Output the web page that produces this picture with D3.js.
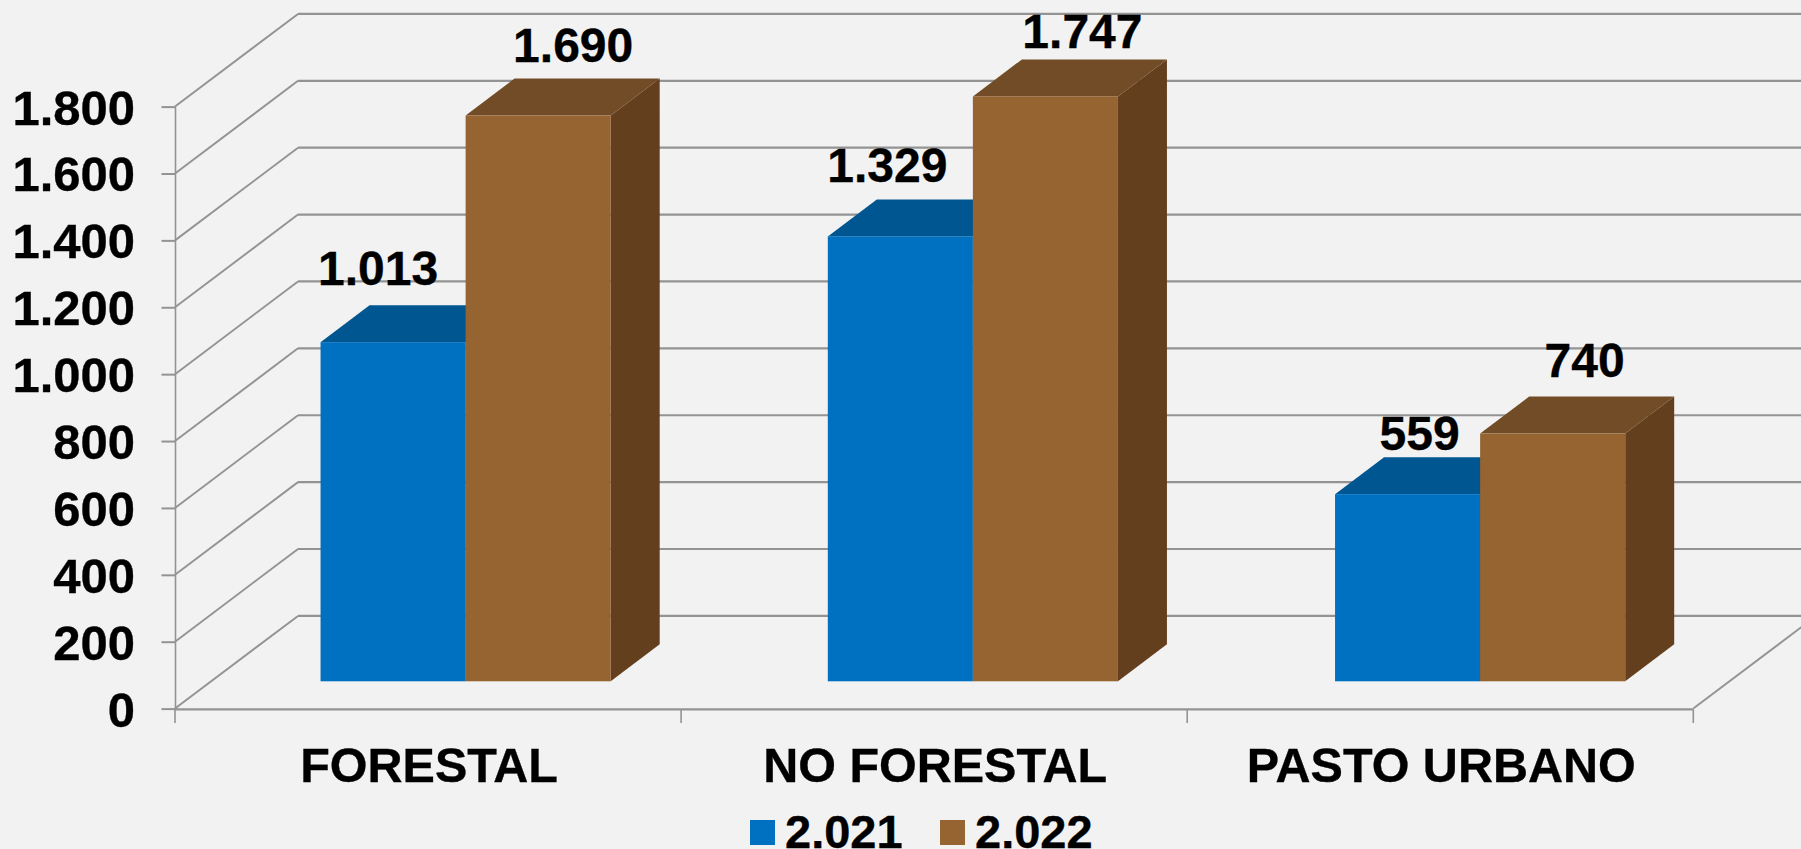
<!DOCTYPE html>
<html>
<head>
<meta charset="utf-8">
<script src="https://cdn.jsdelivr.net/npm/d3@7"></script>
<style>
html,body{margin:0;padding:0;background:#F2F2F2;overflow:hidden}
svg{display:block}
text{font-family:"Liberation Sans",Arial,sans-serif;font-weight:700;fill:#000;stroke:#000;stroke-width:.35px}
</style>
</head>
<body>
<svg id="chart" width="1801" height="849"></svg>
<script>
// ---- data ----
const categories = ["FORESTAL", "NO FORESTAL", "PASTO URBANO"];
const seriesNames = ["2.021", "2.022"];
const values2021 = [1013, 1329, 559];
const values2022 = [1690, 1747, 740];
const yTicks = [0, 200, 400, 600, 800, 1000, 1200, 1400, 1600, 1800];

// ---- layout & style ----
const W = 1801, H = 849;
const fontY = 49, fontCat = 48.5, fontVal = 48, fontLegend = 47;
const depthWall = {dx: 123, dy: -92.7};
const depthBar = {dx: 49, dy: -37};
const barColors = [
  {front: "#0070C0", top: "#005690", side: "#004F85"},
  {front: "#956430", top: "#724C26", side: "#633F1E"}
];
const gridColor = "#939393";
// hand-placed data labels: [dx from bar centre, baseline gap above bar top]
const labelNudge = [
  [[-15, 57], [35, 54]],
  [[-13, 54], [37, 48]],
  [[12, 44], [32, 57]]
];

const svg = d3.select("#chart");
const fmt = d3.formatLocale({decimal: ",", thousands: ".", grouping: [3], currency: ["", ""]}).format(",d");

// ---- scales ----
const yAxisScale = d3.scaleLinear().domain([0, 1800]).range([708.6, 106.6]);
const yBar = d3.scaleLinear().domain([0, 1800]).range([681.3, 78.7]);
const xWall = d3.scaleLinear().domain([0, categories.length]).range([175, 1693.3]);
const xCatLabels = d3.scaleBand().domain(categories).range([175, 1693.3]);
const xGroup = d3.scaleBand().domain(categories).range([212, 1733.75]).paddingInner(0.428).paddingOuter(0.214);
const xSeries = d3.scaleBand().domain(seriesNames).range([0, xGroup.bandwidth()]);

// ---- walls ----
const walls = svg.append("g").attr("fill", "none").attr("stroke", gridColor);
yTicks.forEach(t => {
  const y = yAxisScale(t);
  walls.append("line").attr("stroke-width", 1.9).attr("x1", xWall(0)).attr("y1", y)
    .attr("x2", xWall(0) + depthWall.dx).attr("y2", y + depthWall.dy);
  walls.append("line").attr("stroke-width", 2.2).attr("x1", xWall(0) + depthWall.dx).attr("y1", y + depthWall.dy)
    .attr("x2", xWall(categories.length) + depthWall.dx).attr("y2", y + depthWall.dy);
});
// floor right edge
walls.append("line").attr("stroke-width", 1.9).attr("x1", xWall(categories.length)).attr("y1", yAxisScale(0))
  .attr("x2", xWall(categories.length) + depthWall.dx).attr("y2", yAxisScale(0) + depthWall.dy);

// ---- y axis ----
const yAxisG = svg.append("g").attr("transform", `translate(${xWall(0)},0)`)
  .call(d3.axisLeft(yAxisScale).tickValues(yTicks).tickFormat(fmt).tickSize(13.5).tickSizeOuter(0));
yAxisG.select(".domain").attr("stroke", gridColor).attr("stroke-width", 1.6);
yAxisG.selectAll(".tick line").attr("stroke", gridColor).attr("stroke-width", 2);
yAxisG.selectAll(".tick text")
  .attr("x", -40).attr("dy", null).attr("y", 17.5)
  .attr("text-anchor", "end").attr("fill", "#000").style("font-size", fontY + "px");

// ---- x axis ----
const xBase = 709.4;
svg.append("line").attr("x1", xWall(0)).attr("x2", xWall(categories.length))
  .attr("y1", xBase).attr("y2", xBase).attr("stroke", gridColor).attr("stroke-width", 2.4);
d3.range(categories.length + 1).forEach(i => {
  svg.append("line").attr("x1", xWall(i)).attr("x2", xWall(i))
    .attr("y1", xBase).attr("y2", 723).attr("stroke", gridColor).attr("stroke-width", 1.6);
});
const xAxisG = svg.append("g").attr("transform", `translate(0,${xBase})`)
  .call(d3.axisBottom(xCatLabels).tickSize(0));
xAxisG.select(".domain").remove();
xAxisG.selectAll(".tick text").attr("dy", null).attr("y", 72.5)
  .attr("dx", 1).style("font-size", fontCat + "px");

// ---- bars ----
const allValues = [values2021, values2022];
const bars = svg.append("g");
categories.forEach((cat, c) => {
  seriesNames.forEach((s, i) => {
    const v = allValues[i][c];
    const x0 = xGroup(cat) + xSeries(s), x1 = x0 + xSeries.bandwidth();
    const yT = yBar(v), yB = yBar(0);
    const d = depthBar, col = barColors[i];
    const g = bars.append("g");
    g.append("path").attr("fill", col.side)
      .attr("d", d3.line()([[x1, yT], [x1 + d.dx, yT + d.dy], [x1 + d.dx, yB + d.dy], [x1, yB]]) + "Z");
    g.append("path").attr("fill", col.top)
      .attr("d", d3.line()([[x0, yT], [x0 + d.dx, yT + d.dy], [x1 + d.dx, yT + d.dy], [x1, yT]]) + "Z");
    g.append("rect").attr("fill", col.front)
      .attr("x", x0).attr("y", yT).attr("width", x1 - x0).attr("height", yB - yT);
  });
});

// ---- value labels ----
categories.forEach((cat, c) => {
  seriesNames.forEach((s, i) => {
    const v = allValues[i][c];
    const [nx, ny] = labelNudge[c][i];
    svg.append("text")
      .attr("x", xGroup(cat) + xSeries(s) + xSeries.bandwidth() / 2 + nx)
      .attr("y", yBar(v) - ny)
      .attr("text-anchor", "middle")
      .style("font-size", fontVal + "px")
      .text(fmt(v));
  });
});

// ---- legend ----
const legendX = d3.scalePoint().domain(seriesNames).range([750, 940]);
seriesNames.forEach((s, i) => {
  const x = legendX(s);
  svg.append("rect").attr("x", x).attr("y", 820).attr("width", 25).attr("height", 25)
    .attr("fill", barColors[i].front);
  svg.append("text").attr("x", x + 35).attr("y", 847.5)
    .style("font-size", fontLegend + "px").text(s);
});
</script>
</body>
</html>
